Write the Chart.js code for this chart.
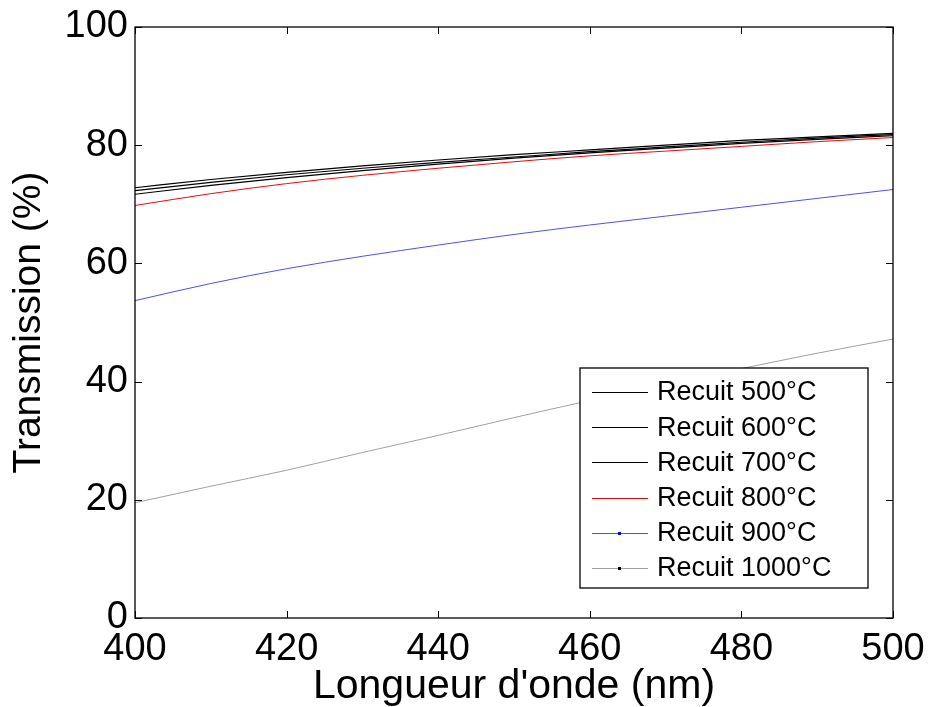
<!DOCTYPE html>
<html>
<head>
<meta charset="utf-8">
<script src="https://cdn.jsdelivr.net/npm/chart.js@4.4.1/dist/chart.umd.min.js"></script>
<style>
html,body{margin:0;padding:0;background:#fff;}
canvas{display:block;}
</style>
</head>
<body>
<canvas id="c" width="929" height="707"></canvas>
<script>
const wavelengths = [400, 410, 420, 430, 440, 450, 460, 470, 480, 490, 500];
const recuit500 = [72.8, 74.2, 75.4, 76.5, 77.5, 78.4, 79.2, 80.0, 80.8, 81.4, 82.0];
const recuit600 = [72.3, 73.7, 75.0, 76.1, 77.1, 78.0, 78.9, 79.7, 80.5, 81.2, 81.8];
const recuit700 = [71.7, 73.2, 74.5, 75.7, 76.8, 77.8, 78.7, 79.5, 80.3, 81.0, 81.6];
const recuit800 = [69.8, 71.8, 73.5, 74.9, 76.1, 77.2, 78.2, 79.0, 79.8, 80.6, 81.3];
const recuit900 = [53.7, 56.6, 59.1, 61.2, 63.1, 64.9, 66.5, 68.0, 69.5, 71.0, 72.5];
const recuit1000 = [19.5, 22.3, 25.0, 28.0, 30.9, 33.9, 36.8, 39.5, 42.2, 44.8, 47.2];
const seriesLabels = ["Recuit 500°C", "Recuit 600°C", "Recuit 700°C", "Recuit 800°C", "Recuit 900°C", "Recuit 1000°C"];
const xTicks = [400, 420, 440, 460, 480, 500];
const yTicks = [0, 20, 40, 60, 80, 100];

const FONT = "'Liberation Sans', Arial, sans-serif";
const allSeries = [recuit500, recuit600, recuit700, recuit800, recuit900, recuit1000];
const colors = ["#000000", "#000000", "#000000", "#ff0000", "#4d4dff", "#a0a0a0"];
const markers = [false, false, false, false, "#0000ff", "#000000"];

const datasets = allSeries.map((s, i) => ({
  label: seriesLabels[i],
  data: s.map((v, j) => ({x: wavelengths[j], y: v})),
  borderColor: colors[i],
  borderWidth: i < 3 ? 1.2 : 1,
  pointRadius: 0,
  cubicInterpolationMode: 'monotone',
  fill: false,
  marker: markers[i]
}));

const framePlugin = {
  id: 'frame',
  afterDatasetsDraw(chart) {
    const ctx = chart.ctx;
    const a = chart.chartArea;
    const xs = chart.scales.x, ys = chart.scales.y;
    ctx.save();
    ctx.strokeStyle = '#000';
    ctx.lineWidth = 1.3;
    ctx.strokeRect(a.left, a.top, a.right - a.left, a.bottom - a.top);
    ctx.lineWidth = 1;
    const tl = 7;
    ctx.beginPath();
    xTicks.forEach(v => {
      const px = Math.round(xs.getPixelForValue(v)) + 0.5;
      ctx.moveTo(px, a.bottom); ctx.lineTo(px, a.bottom - tl);
      ctx.moveTo(px, a.top); ctx.lineTo(px, a.top + tl);
    });
    yTicks.forEach(v => {
      const py = Math.round(ys.getPixelForValue(v)) + 0.5;
      ctx.moveTo(a.left, py); ctx.lineTo(a.left + tl, py);
      ctx.moveTo(a.right, py); ctx.lineTo(a.right - tl, py);
    });
    ctx.stroke();

    // legend
    const bx = 580, by = 368, bw = 288, bh = 220;
    ctx.fillStyle = '#fff';
    ctx.fillRect(bx, by, bw, bh);
    ctx.lineWidth = 1.3;
    ctx.strokeStyle = '#000';
    ctx.strokeRect(bx, by, bw, bh);
    ctx.font = '27px ' + FONT;
    ctx.textBaseline = 'middle';
    ctx.textAlign = 'left';
    chart.data.datasets.forEach((d, i) => {
      const y = by + 24 + i * 35.2;
      ctx.strokeStyle = d.borderColor;
      ctx.lineWidth = 1;
      ctx.beginPath();
      ctx.moveTo(592, Math.round(y) + 0.5);
      ctx.lineTo(648, Math.round(y) + 0.5);
      ctx.stroke();
      if (d.marker) {
        ctx.fillStyle = d.marker;
        ctx.fillRect(618, Math.round(y) - 1, 3, 3);
      }
      ctx.fillStyle = '#000';
      ctx.fillText(d.label, 657, y + 1);
    });
    ctx.restore();
  }
};

new Chart(document.getElementById('c'), {
  type: 'line',
  data: { datasets },
  options: {
    responsive: false,
    animation: false,
    devicePixelRatio: 1,
    layout: { padding: { top: 27, right: 36, left: 0, bottom: 0 } },
    plugins: { legend: { display: false }, tooltip: { enabled: false } },
    scales: {
      x: {
        type: 'linear', min: 400, max: 500,
        afterFit(s) { s.height = 89; s.paddingLeft = 0; s.paddingRight = 0; },
        afterBuildTicks(s) { s.ticks = xTicks.map(v => ({value: v})); },
        grid: { display: false, drawTicks: false },
        border: { display: false },
        ticks: { color: '#000', font: { family: FONT, size: 38 }, padding: 9, maxRotation: 0, autoSkip: false },
        title: { display: true, text: "Longueur d'onde (nm)", color: '#000', font: { family: FONT, size: 41, lineHeight: 1 }, padding: { top: 0, bottom: 0 } }
      },
      y: {
        type: 'linear', min: 0, max: 100,
        afterFit(s) { s.width = 135; s.paddingTop = 0; s.paddingBottom = 0; },
        afterBuildTicks(s) { s.ticks = yTicks.map(v => ({value: v})); },
        grid: { display: false, drawTicks: false },
        border: { display: false },
        ticks: { color: '#000', font: { family: FONT, size: 38 }, padding: 7, autoSkip: false },
        title: { display: true, text: "Transmission (%)", color: '#000', font: { family: FONT, size: 39, lineHeight: 1 }, padding: { top: 10, bottom: 0 } }
      }
    }
  },
  plugins: [framePlugin]
});
</script>
</body>
</html>
